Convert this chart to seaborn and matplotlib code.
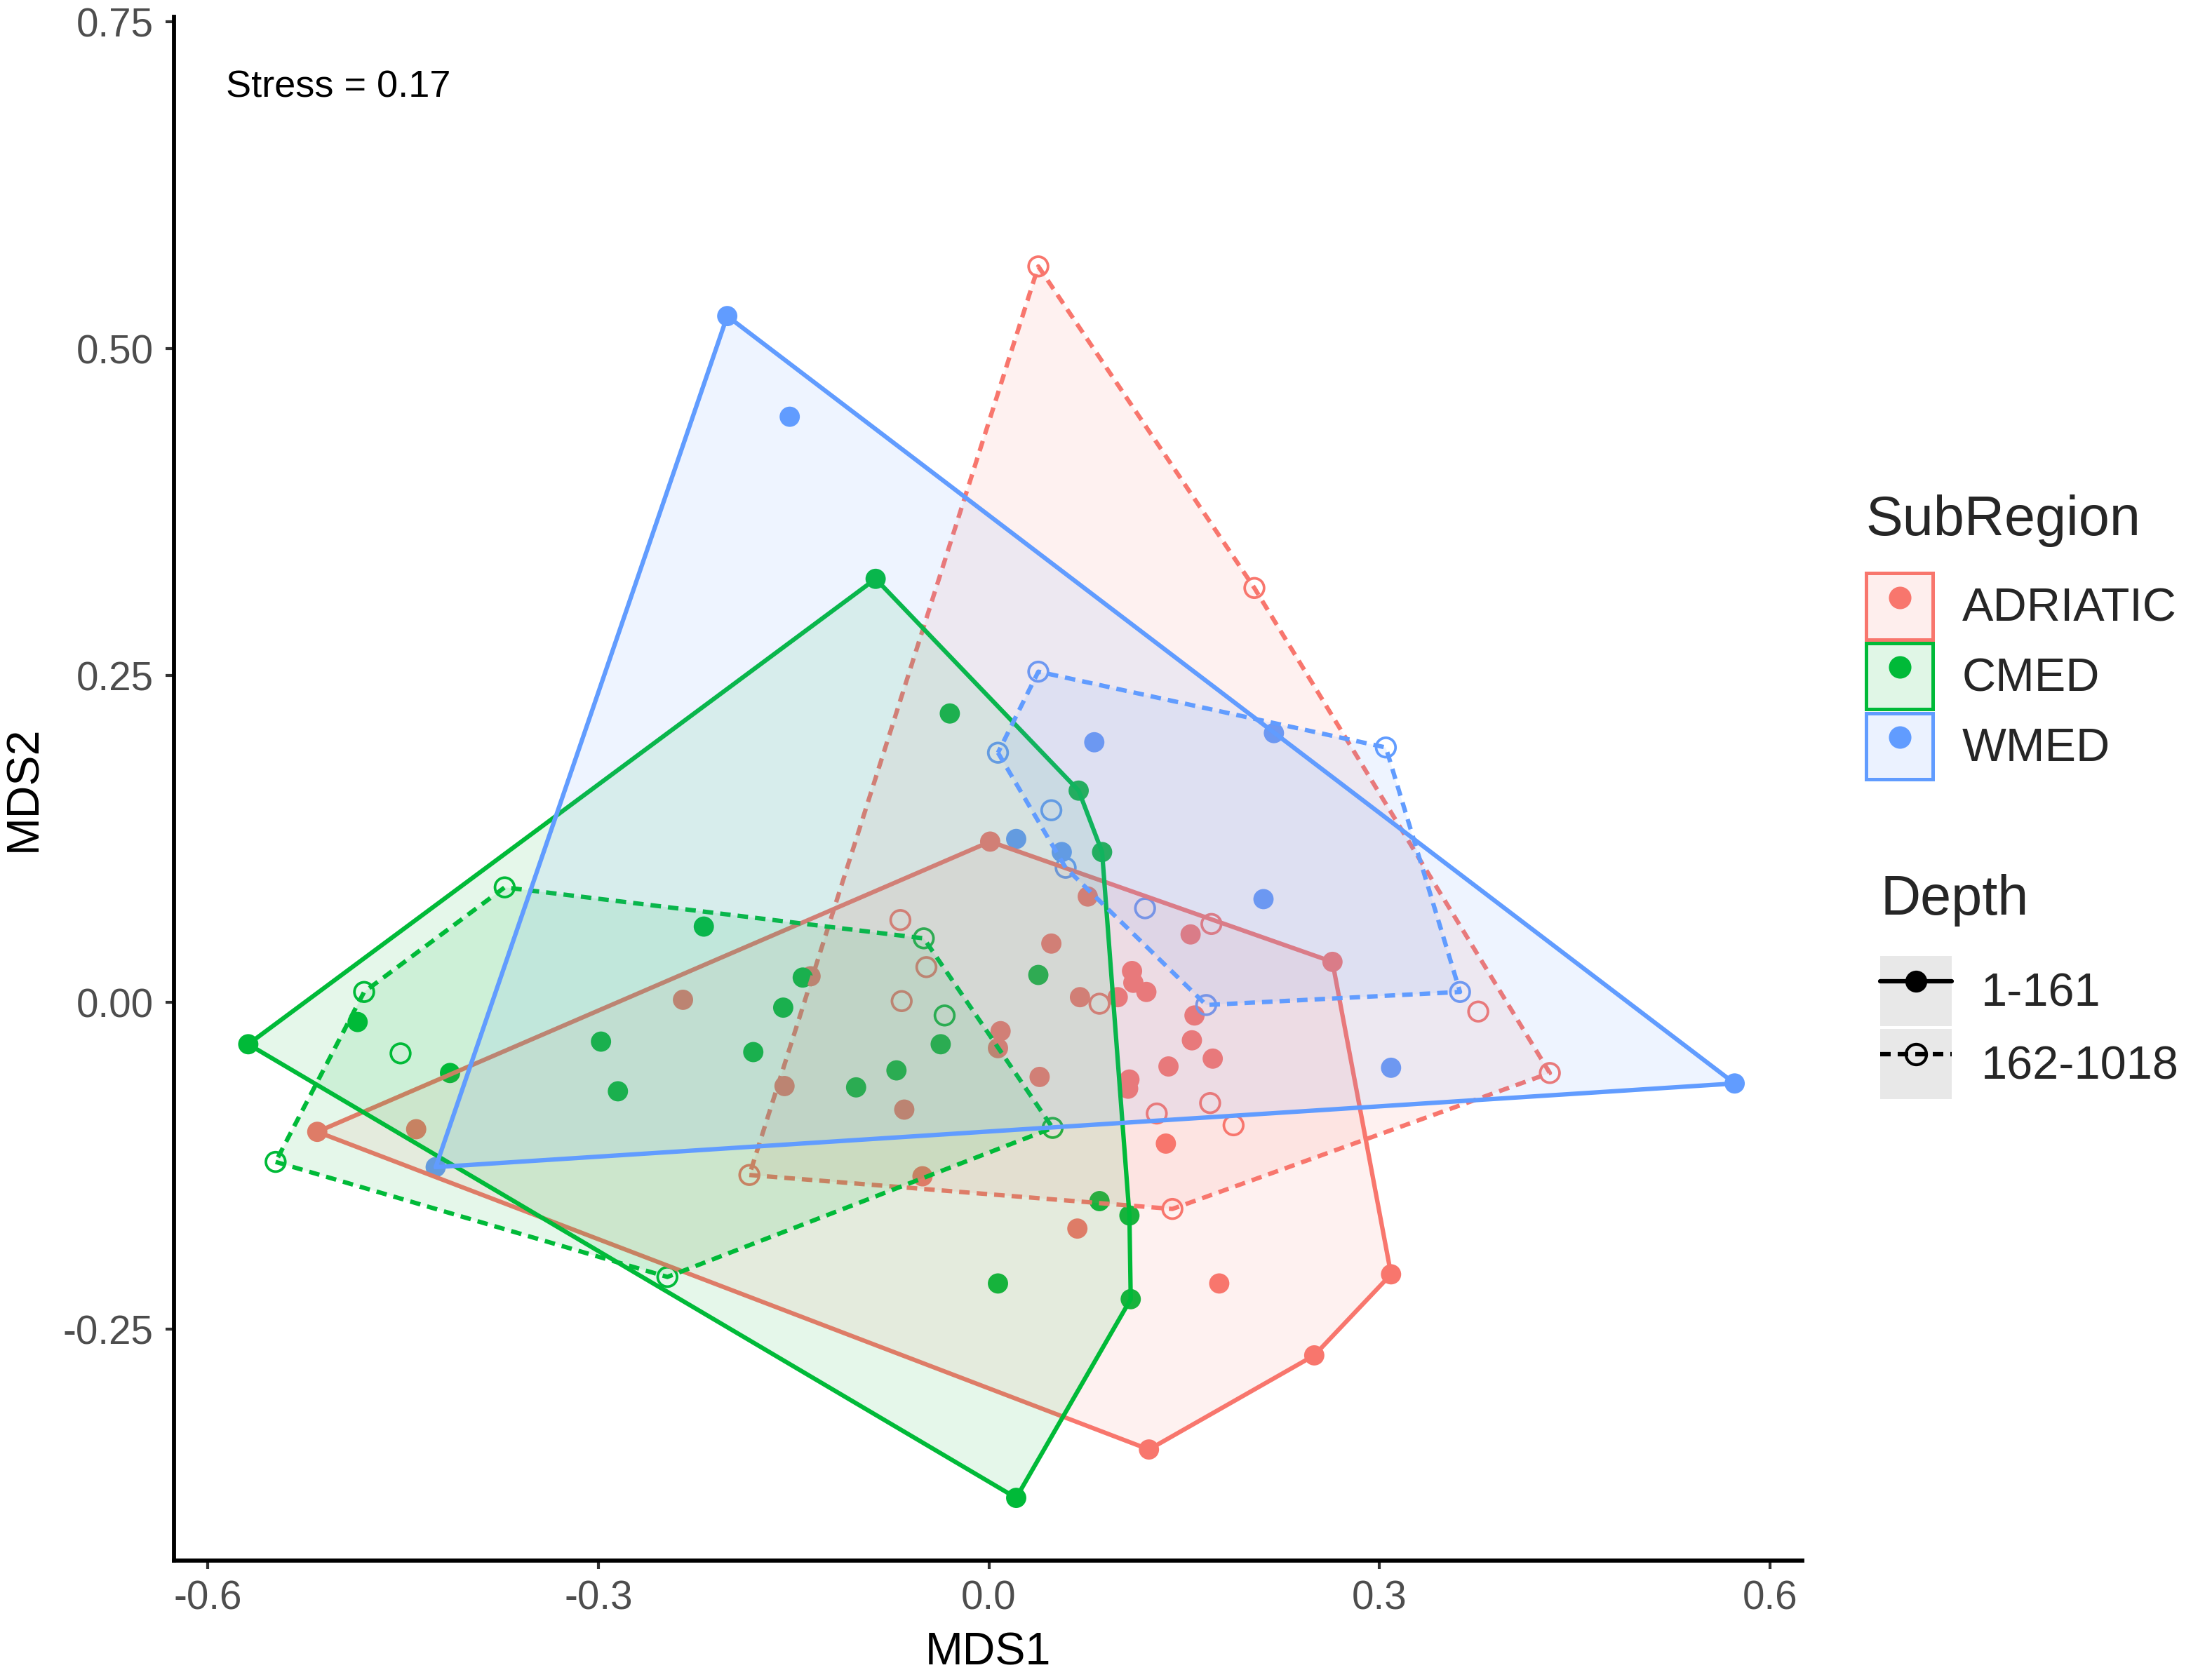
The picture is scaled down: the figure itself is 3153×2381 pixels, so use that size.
import numpy as np
import pandas as pd
import matplotlib
matplotlib.use("Agg")
import matplotlib.pyplot as plt
import seaborn as sns
from matplotlib.patches import Patch
from matplotlib.lines import Line2D
from matplotlib.legend_handler import HandlerTuple
from matplotlib.colors import to_rgb

# ---------------- data ----------------
regions = ["ADRIATIC", "CMED", "WMED"]
depths = ["1-161", "162-1018"]
palette = {"ADRIATIC": "#F8766D", "CMED": "#00BA38", "WMED": "#619CFF"}

adriatic_shallow_mds1 = [-0.516, 0.001, 0.264, 0.309, 0.250, 0.123, -0.440, -0.235, -0.137, -0.157,
                         -0.065, -0.051, 0.009, 0.007, 0.039, 0.048, 0.076, 0.070, 0.099, 0.110,
                         0.111, 0.121, 0.108, 0.107, 0.138, 0.136, 0.155, 0.158, 0.156, 0.172,
                         0.068, 0.177]
adriatic_shallow_mds2 = [-0.099, 0.123, 0.031, -0.208, -0.270, -0.342, -0.097, 0.002, 0.020, -0.064,
                         -0.082, -0.133, -0.022, -0.035, -0.057, 0.045, 0.081, 0.004, 0.004, 0.024,
                         0.015, 0.008, -0.059, -0.066, -0.049, -0.108, 0.052, -0.010, -0.029, -0.043,
                         -0.173, -0.215]
adriatic_deep_mds1 = [0.038, 0.204, 0.431, 0.141, -0.184, -0.068, -0.067, -0.048, 0.085, 0.171,
                      0.129, 0.170, 0.188, 0.376]
adriatic_deep_mds2 = [0.563, 0.317, -0.054, -0.158, -0.132, 0.063, 0.001, 0.027, -0.001, 0.060,
                      -0.085, -0.077, -0.094, -0.007]

cmed_shallow_mds1 = [-0.569, -0.087, 0.069, 0.087, 0.108, 0.109, 0.021, -0.485, -0.414, -0.219,
                     -0.298, -0.285, -0.181, -0.158, -0.143, -0.102, -0.071, -0.037, -0.030, 0.038,
                     0.085, 0.007]
cmed_shallow_mds2 = [-0.032, 0.324, 0.162, 0.115, -0.163, -0.227, -0.379, -0.015, -0.054, 0.058,
                     -0.030, -0.068, -0.038, -0.004, 0.019, -0.065, -0.052, -0.032, 0.221, 0.021,
                     -0.152, -0.215]
cmed_deep_mds1 = [-0.372, -0.050, 0.049, -0.247, -0.548, -0.480, -0.452, -0.034]
cmed_deep_mds2 = [0.088, 0.049, -0.096, -0.210, -0.122, 0.008, -0.039, -0.010]

wmed_shallow_mds1 = [-0.201, 0.573, -0.425, 0.219, -0.153, 0.081, 0.021, 0.056, 0.211, 0.309]
wmed_shallow_mds2 = [0.525, -0.062, -0.126, 0.206, 0.448, 0.199, 0.125, 0.115, 0.079, -0.050]
wmed_deep_mds1 = [0.007, 0.038, 0.305, 0.362, 0.167, 0.059, 0.048, 0.120]
wmed_deep_mds2 = [0.191, 0.253, 0.195, 0.008, -0.002, 0.103, 0.147, 0.072]

x_ticks = [-0.6, -0.3, 0.0, 0.3, 0.6]
y_ticks = [-0.25, 0.00, 0.25, 0.50, 0.75]
stress_label = "Stress = 0.17"

series = {
    ("ADRIATIC", "1-161"): (adriatic_shallow_mds1, adriatic_shallow_mds2),
    ("ADRIATIC", "162-1018"): (adriatic_deep_mds1, adriatic_deep_mds2),
    ("CMED", "1-161"): (cmed_shallow_mds1, cmed_shallow_mds2),
    ("CMED", "162-1018"): (cmed_deep_mds1, cmed_deep_mds2),
    ("WMED", "1-161"): (wmed_shallow_mds1, wmed_shallow_mds2),
    ("WMED", "162-1018"): (wmed_deep_mds1, wmed_deep_mds2),
}
frames = []
for (reg, dep), (xs, ys) in series.items():
    frames.append(pd.DataFrame({"MDS1": xs, "MDS2": ys, "SubRegion": reg, "Depth": dep}))
df = pd.concat(frames, ignore_index=True)


def convex_hull(pts):
    pts = sorted(set(map(tuple, pts)))
    if len(pts) < 3:
        return pts

    def cross(o, a, b):
        return (a[0] - o[0]) * (b[1] - o[1]) - (a[1] - o[1]) * (b[0] - o[0])
    lower, upper = [], []
    for p in pts:
        while len(lower) >= 2 and cross(lower[-2], lower[-1], p) <= 0:
            lower.pop()
        lower.append(p)
    for p in reversed(pts):
        while len(upper) >= 2 and cross(upper[-2], upper[-1], p) <= 0:
            upper.pop()
        upper.append(p)
    return lower[:-1] + upper[:-1]


# ---------------- style ----------------
sns.set_style("ticks")
plt.rcParams["font.family"] = ["Liberation Sans", "DejaVu Sans"]
plt.rcParams["axes.unicode_minus"] = False

fig = plt.figure(figsize=(3153 / 300, 2381 / 300), dpi=300)
ax = fig.add_axes([0.0787, 0.0655, 0.7361, 0.9245])

DASH = (0, (2.4, 1.6))
LW = 1.5

# points (drawn first; hull fills sit over them)
shallow = df[df["Depth"] == "1-161"]
sns.scatterplot(data=shallow, x="MDS1", y="MDS2", hue="SubRegion", hue_order=regions,
                palette=palette, s=48, linewidth=0, legend=False, ax=ax, zorder=2)
deep = df[df["Depth"] == "162-1018"]
for reg in regions:
    d = deep[deep["SubRegion"] == reg]
    ax.scatter(d["MDS1"], d["MDS2"], s=44, facecolors="none", edgecolors=palette[reg],
               linewidths=0.9, zorder=2)

# hulls
z = 3
for reg in regions:
    for dep in depths:
        d = df[(df["SubRegion"] == reg) & (df["Depth"] == dep)]
        hull = convex_hull(d[["MDS1", "MDS2"]].values)
        hx = [p[0] for p in hull] + [hull[0][0]]
        hy = [p[1] for p in hull] + [hull[0][1]]
        ax.fill(hx, hy, facecolor=palette[reg], alpha=0.1, edgecolor="none", zorder=z)
        ax.plot(hx, hy, color=palette[reg], lw=LW,
                linestyle="-" if dep == "1-161" else DASH, zorder=z + 0.5,
                solid_joinstyle="round")
        z += 1

ax.text(-0.5, 0.70, stress_label, ha="center", va="center", fontsize=13, color="black")

ax.set_xlim(-0.626, 0.625)
ax.set_ylim(-0.427, 0.754)
ax.set_xticks(x_ticks)
ax.set_xticklabels([f"{v:.1f}" for v in x_ticks])
ax.set_yticks(y_ticks)
ax.set_yticklabels([f"{v:.2f}" for v in y_ticks])
for s in ["top", "right"]:
    ax.spines[s].set_visible(False)
for s in ["left", "bottom"]:
    ax.spines[s].set_linewidth(1.4)
    ax.spines[s].set_color("black")
ax.tick_params(axis="both", length=2.9, width=1.0, color="#333333", labelcolor="#4D4D4D",
               labelsize=13.6)
ax.tick_params(axis="x", pad=3.6)
ax.tick_params(axis="y", pad=4.2)
ax.set_xlabel("MDS1", fontsize=15.5, color="black", labelpad=5.0)
ax.set_ylabel("MDS2", fontsize=15.5, color="black", labelpad=6.0)

# ---------------- legends ----------------
h1 = []
for reg in regions:
    rgb = to_rgb(palette[reg])
    h1.append((Patch(facecolor=(*rgb, 0.12), edgecolor=rgb, linewidth=1.2),
               Line2D([], [], marker="o", color=rgb, linestyle="none", markersize=7.7,
                      markeredgewidth=0)))
leg1 = fig.legend(h1, regions, handler_map={tuple: HandlerTuple(ndivide=1, pad=0)},
                  loc="upper left", bbox_to_anchor=(0.8436, 0.7040), frameon=False,
                  title="SubRegion", title_fontsize=19, fontsize=16,
                  handlelength=1.43, handleheight=1.80, labelspacing=0.08,
                  handletextpad=0.62, borderpad=0, borderaxespad=0, alignment="left")
leg1._legend_box.sep = 9

h2 = [
    (Patch(facecolor="#E8E8E8", edgecolor="none"),
     Line2D([], [], color="black", lw=LW, linestyle="-", marker="o", markersize=7.5,
            markerfacecolor="black", markeredgewidth=0)),
    (Patch(facecolor="#E8E8E8", edgecolor="none"),
     Line2D([], [], color="black", lw=LW, linestyle=DASH, marker="o", markersize=7.0,
            markerfacecolor="none", markeredgecolor="black", markeredgewidth=1.0)),
]
leg2 = fig.legend(h2, depths, handler_map={tuple: HandlerTuple(ndivide=1, pad=0)},
                  loc="upper left", bbox_to_anchor=(0.850, 0.4765), frameon=False,
                  title="Depth", title_fontsize=19, fontsize=16,
                  handlelength=1.53, handleheight=1.93, labelspacing=0.06,
                  handletextpad=0.62, borderpad=0, borderaxespad=0, alignment="left")
leg2._legend_box.sep = 10

fig.savefig("out.png", dpi=300)
